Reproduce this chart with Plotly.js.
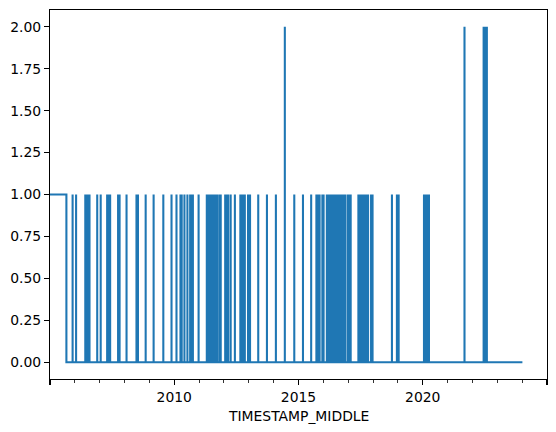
<!DOCTYPE html>
<html>
<head>
<meta charset="utf-8">
<script src="https://cdn.plot.ly/plotly-3.0.1.min.js"></script>
<style>html,body{margin:0;padding:0;background:#fff;}#chart{width:556px;height:432px;}</style>
</head>
<body>
<div id="chart"></div>
<script>
// TIMESTAMP_MIDDLE in decimal years, with the series value at each point
const timestamps = [
  2005.00, 2005.66, 2005.66,
  2005.91, 2005.91, 2005.91, 2006.05, 2006.05, 2006.05,
  2006.42, 2006.42, 2006.42, 2006.48, 2006.48, 2006.48, 2006.54, 2006.54, 2006.54, 2006.59, 2006.59, 2006.59, 2006.90, 2006.90, 2006.90, 2007.04, 2007.04, 2007.04,
  2007.30, 2007.30, 2007.30, 2007.36, 2007.36, 2007.36, 2007.42, 2007.42, 2007.42, 2007.74, 2007.74, 2007.74, 2007.80, 2007.80, 2007.80, 2008.08, 2008.08, 2008.08,
  2008.48, 2008.48, 2008.48, 2008.54, 2008.54, 2008.54, 2008.85, 2008.85, 2008.85, 2009.17, 2009.17, 2009.17, 2009.56, 2009.56, 2009.56, 2009.89, 2009.89, 2009.89,
  2010.09, 2010.09, 2010.09, 2010.25, 2010.25, 2010.25, 2010.30, 2010.30, 2010.30, 2010.41, 2010.41, 2010.41, 2010.53, 2010.53, 2010.53, 2010.64, 2010.64, 2010.64,
  2010.70, 2010.70, 2010.70, 2010.75, 2010.75, 2010.75, 2010.98, 2010.98, 2010.98, 2011.31, 2011.31, 2011.31, 2011.37, 2011.37, 2011.37, 2011.43, 2011.43, 2011.43,
  2011.49, 2011.49, 2011.49, 2011.55, 2011.55, 2011.55, 2011.61, 2011.61, 2011.61, 2011.65, 2011.65, 2011.65, 2011.72, 2011.72, 2011.72, 2011.81, 2011.81, 2011.81,
  2011.87, 2011.87, 2011.87, 2012.05, 2012.05, 2012.05, 2012.11, 2012.11, 2012.11, 2012.17, 2012.17, 2012.17, 2012.27, 2012.27, 2012.27, 2012.44, 2012.44, 2012.44,
  2012.66, 2012.66, 2012.66, 2012.72, 2012.72, 2012.72, 2012.78, 2012.78, 2012.78, 2012.84, 2012.84, 2012.84, 2012.97, 2012.97, 2012.97, 2013.05, 2013.05, 2013.05,
  2013.38, 2013.38, 2013.38, 2013.73, 2013.73, 2013.73, 2014.09, 2014.09, 2014.09, 2014.45, 2014.45, 2014.45, 2014.83, 2014.83, 2014.83, 2015.18, 2015.18, 2015.18,
  2015.51, 2015.51, 2015.51, 2015.72, 2015.72, 2015.72, 2015.78, 2015.78, 2015.78, 2015.85, 2015.85, 2015.85, 2015.96, 2015.96, 2015.96, 2016.01, 2016.01, 2016.01,
  2016.14, 2016.14, 2016.14, 2016.19, 2016.19, 2016.19, 2016.24, 2016.24, 2016.24, 2016.29, 2016.29, 2016.29, 2016.34, 2016.34, 2016.34, 2016.39, 2016.39, 2016.39,
  2016.43, 2016.43, 2016.43, 2016.48, 2016.48, 2016.48, 2016.53, 2016.53, 2016.53, 2016.58, 2016.58, 2016.58, 2016.63, 2016.63, 2016.63, 2016.67, 2016.67, 2016.67,
  2016.72, 2016.72, 2016.72, 2016.77, 2016.77, 2016.77, 2016.82, 2016.82, 2016.82, 2016.87, 2016.87, 2016.87, 2016.97, 2016.97, 2016.97, 2017.03, 2017.03, 2017.03,
  2017.10, 2017.10, 2017.10, 2017.41, 2017.41, 2017.41, 2017.46, 2017.46, 2017.46, 2017.51, 2017.51, 2017.51, 2017.56, 2017.56, 2017.56, 2017.61, 2017.61, 2017.61,
  2017.65, 2017.65, 2017.65, 2017.70, 2017.70, 2017.70, 2017.75, 2017.75, 2017.75, 2017.80, 2017.80, 2017.80, 2017.92, 2017.92, 2017.92, 2017.98, 2017.98, 2017.98,
  2018.76, 2018.76, 2018.76, 2018.96, 2018.96, 2018.96, 2019.03, 2019.03, 2019.03, 2020.05, 2020.05, 2020.05, 2020.10, 2020.10, 2020.10, 2020.16, 2020.16, 2020.16,
  2020.21, 2020.21, 2020.21, 2020.25, 2020.25, 2020.25, 2021.68, 2021.68, 2021.68, 2022.45, 2022.45, 2022.45, 2022.51, 2022.51, 2022.51, 2022.58, 2022.58, 2022.58,
  2024.01
];
const values = [
  1, 1, 0,
  0, 1, 0, 0, 1, 0,
  0, 1, 0, 0, 1, 0, 0, 1, 0, 0, 1, 0, 0, 1, 0, 0, 1, 0,
  0, 1, 0, 0, 1, 0, 0, 1, 0, 0, 1, 0, 0, 1, 0, 0, 1, 0,
  0, 1, 0, 0, 1, 0, 0, 1, 0, 0, 1, 0, 0, 1, 0, 0, 1, 0,
  0, 1, 0, 0, 1, 0, 0, 1, 0, 0, 1, 0, 0, 1, 0, 0, 1, 0,
  0, 1, 0, 0, 1, 0, 0, 1, 0, 0, 1, 0, 0, 1, 0, 0, 1, 0,
  0, 1, 0, 0, 1, 0, 0, 1, 0, 0, 1, 0, 0, 1, 0, 0, 1, 0,
  0, 1, 0, 0, 1, 0, 0, 1, 0, 0, 1, 0, 0, 1, 0, 0, 1, 0,
  0, 1, 0, 0, 1, 0, 0, 1, 0, 0, 1, 0, 0, 1, 0, 0, 1, 0,
  0, 1, 0, 0, 1, 0, 0, 1, 0, 0, 2, 0, 0, 1, 0, 0, 1, 0,
  0, 1, 0, 0, 1, 0, 0, 1, 0, 0, 1, 0, 0, 1, 0, 0, 1, 0,
  0, 1, 0, 0, 1, 0, 0, 1, 0, 0, 1, 0, 0, 1, 0, 0, 1, 0,
  0, 1, 0, 0, 1, 0, 0, 1, 0, 0, 1, 0, 0, 1, 0, 0, 1, 0,
  0, 1, 0, 0, 1, 0, 0, 1, 0, 0, 1, 0, 0, 1, 0, 0, 1, 0,
  0, 1, 0, 0, 1, 0, 0, 1, 0, 0, 1, 0, 0, 1, 0, 0, 1, 0,
  0, 1, 0, 0, 1, 0, 0, 1, 0, 0, 1, 0, 0, 1, 0, 0, 1, 0,
  0, 1, 0, 0, 1, 0, 0, 1, 0, 0, 1, 0, 0, 1, 0, 0, 1, 0,
  0, 1, 0, 0, 1, 0, 0, 2, 0, 0, 2, 0, 0, 2, 0, 0, 2, 0,
  0
];
const xTickVals = [2005, 2010, 2015, 2020, 2025];
const xTickText = ['', '2010', '2015', '2020', ''];
const yTickVals = [0, 0.25, 0.5, 0.75, 1, 1.25, 1.5, 1.75, 2];
const yTickText = ['0.00', '0.25', '0.50', '0.75', '1.00', '1.25', '1.50', '1.75', '2.00'];
const xTitle = 'TIMESTAMP_MIDDLE';

const trace = {
  x: timestamps, y: values, type: 'scatter', mode: 'lines',
  line: {color: '#1f77b4', width: 2.08, simplify: false},
  hoverinfo: 'skip'
};

const axisCommon = {
  ticks: 'outside', ticklen: 4.9, tickwidth: 1.1, tickcolor: 'black',
  showline: true, mirror: true, linecolor: 'black', linewidth: 1.1,
  showgrid: false, zeroline: false, automargin: false,
  tickfont: {family: 'DejaVu Sans', size: 13.9, color: 'black'}
};

const layout = {
  width: 556, height: 432,
  margin: {l: 50, r: 9, t: 10, b: 53},
  paper_bgcolor: 'white', plot_bgcolor: 'white',
  showlegend: false,
  font: {family: 'DejaVu Sans', size: 13.9, color: 'black'},
  xaxis: Object.assign({}, axisCommon, {
    range: [2005, 2025], tickmode: 'array', tickvals: xTickVals, ticktext: xTickText,
    minor: {tickmode: 'linear', tick0: 2005, dtick: 1, ticks: 'outside', ticklen: 2.8, tickwidth: 0.8, tickcolor: 'black', showgrid: false}
  }),
  yaxis: Object.assign({}, axisCommon, {
    range: [-0.1, 2.1], tickmode: 'array', tickvals: yTickVals, ticktext: yTickText
  }),
  annotations: [{
    text: xTitle, xref: 'paper', yref: 'paper', x: 0.5, y: -0.101,
    xanchor: 'center', yanchor: 'middle', showarrow: false,
    font: {family: 'DejaVu Sans', size: 13.9, color: 'black'}
  }]
};

Plotly.newPlot('chart', [trace], layout, {displayModeBar: false, staticPlot: true});
</script>
</body>
</html>
